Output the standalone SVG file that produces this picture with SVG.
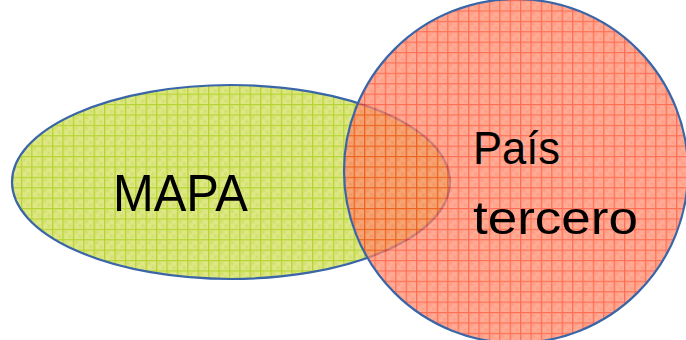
<svg xmlns="http://www.w3.org/2000/svg" width="686" height="340" viewBox="0 0 686 340">
<style>
.lbl{font-family:"Liberation Sans",Arial,sans-serif;font-size:52px;fill:#000}
.edge{stroke:#3a66a8;stroke-width:2.2}
</style>
<defs>
<pattern id="pg" patternUnits="userSpaceOnUse" width="10.4" height="10.4" x="0" y="0">
<rect width="10.4" height="10.4" fill="#dde784"/>
<rect x="2" y="2" width="3" height="3" fill="#d3e070"/>
<rect x="6" y="6" width="3" height="3" fill="#d3e070"/>
<path d="M0 0.6H10.4M0.6 0V10.4" stroke="#b6d331" stroke-width="1.4"/>
</pattern>
<pattern id="pr" patternUnits="userSpaceOnUse" width="10.4" height="10.4" x="0" y="0">
<rect width="10.4" height="10.4" fill="#ff8c6e"/>
<rect x="2" y="2" width="3" height="3" fill="#ff7c5c"/>
<rect x="6" y="6" width="3" height="3" fill="#ff7c5c"/>
<path d="M0 0.6H10.4M0.6 0V10.4" stroke="#ff3b18" stroke-width="1.4"/>
</pattern>
</defs>
<g id="mapa">
<ellipse cx="231" cy="182" rx="219" ry="97" fill="url(#pg)" class="edge"/>
</g>
<g id="pais">
<circle cx="516" cy="171" r="172" fill="url(#pr)" fill-opacity="0.74" class="edge"/>
</g>
<g id="connectors"></g>
<g id="labels">
<text class="lbl" x="113" y="211" textLength="135" lengthAdjust="spacingAndGlyphs">MAPA</text>
<text class="lbl" x="473" y="164" textLength="87" lengthAdjust="spacingAndGlyphs" style="font-size:47px">País</text>
<text class="lbl" x="473" y="234" textLength="165" lengthAdjust="spacingAndGlyphs" style="font-size:47px">tercero</text>
</g>
</svg>
